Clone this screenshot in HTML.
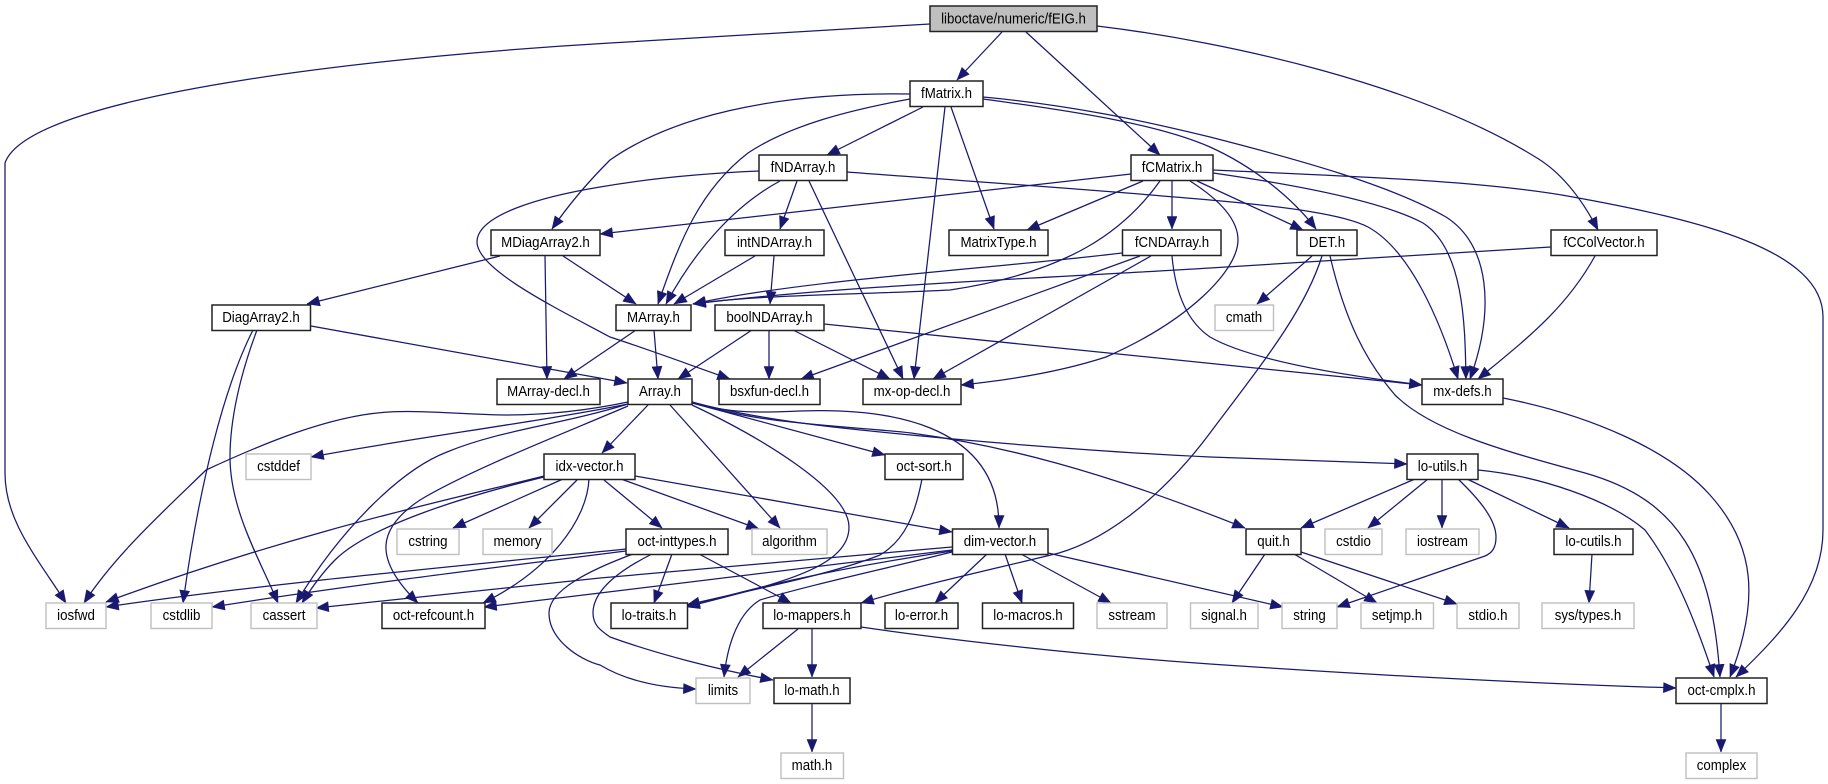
<!DOCTYPE html>
<html><head><meta charset="utf-8"><style>
html,body{margin:0;padding:0;background:#fff}
svg{display:block}
text{font-family:"Liberation Sans",sans-serif;font-size:14.5px;text-anchor:middle;fill:#000;transform-box:fill-box;transform-origin:center;transform:scaleX(.917)}
.n rect{fill:#fff;stroke:#222;stroke-width:1.5}
.g rect{fill:#fff;stroke:#bfbfbf;stroke-width:1.4}
.e path{fill:none;stroke:#191970;stroke-width:1.25;marker-end:url(#a)}
</style></head><body>
<svg width="1828" height="784" viewBox="0 0 1828 784" xmlns="http://www.w3.org/2000/svg">
<defs><marker id="a" markerUnits="userSpaceOnUse" markerWidth="14" markerHeight="11" refX="12.5" refY="5" orient="auto" overflow="visible"><path d="M0,0L12.5,5L0,10z" fill="#191970" stroke="#191970" stroke-width=".5"/></marker></defs>
<g class="e">
<path d="M930,24L610,43C420,54 30,90 5,163L5,473C5,520 35,555 66,603"/>
<path d="M1002,32L957,80"/>
<path d="M1026,32L1160,155"/>
<path d="M1097,26C1230,42 1420,85 1537,158C1565,175 1585,205 1598,230"/>
<path d="M910,94C770,92 670,118 610,160C585,185 565,210 552,229"/>
<path d="M910,99C850,110 790,125 748,153C700,190 680,240 658,304"/>
<path d="M923,107L827,155"/>
<path d="M945,107L914,379"/>
<path d="M951,107L994,229"/>
<path d="M983,99C1080,112 1160,125 1210,147C1250,165 1290,195 1316,229"/>
<path d="M983,97C1070,105 1140,120 1210,137C1300,160 1390,185 1446,217C1490,245 1495,310 1470,379"/>
<path d="M759,171C690,174 640,180 600,187C540,197 477,215 477,242C477,270 560,310 610,337C650,350 690,365 730,379"/>
<path d="M847,172C950,180 1100,190 1210,200C1290,207 1345,215 1368,227C1410,250 1440,320 1458,379"/>
<path d="M780,181C735,205 695,250 666,304"/>
<path d="M797,181L780,229"/>
<path d="M809,181L903,379"/>
<path d="M1131,174L600,234"/>
<path d="M1143,181L1027,230"/>
<path d="M1160,181C1125,230 1070,272 950,290C850,295 750,295 693,304"/>
<path d="M1172,181L1172,229"/>
<path d="M1190,181C1220,200 1238,220 1238,240C1238,270 1190,320 1106,357C1060,372 1010,380 961,385"/>
<path d="M1197,181L1303,230"/>
<path d="M1213,173C1290,184 1380,200 1423,223C1465,250 1465,330 1466,379"/>
<path d="M1213,170C1340,176 1480,180 1573,197C1700,220 1823,250 1823,317L1823,530C1823,590 1780,635 1736,677"/>
<path d="M1122,253C1000,268 800,280 693,304"/>
<path d="M1140,256L801,379"/>
<path d="M1151,256L933,379"/>
<path d="M1172,256C1175,290 1185,320 1210,337C1250,360 1340,375 1422,385"/>
<path d="M1312,256L1257,304"/>
<path d="M1330,256C1345,320 1365,360 1395,395C1430,430 1500,450 1585,473C1680,500 1712,560 1720,677"/>
<path d="M1322,256C1305,310 1265,360 1210,433C1175,480 1120,535 1059,553C990,570 920,585 861,603"/>
<path d="M1551,247L1210,268C1050,278 850,285 693,304"/>
<path d="M1595,256C1565,310 1525,340 1478,379"/>
<path d="M500,256L307,304"/>
<path d="M545,256L547,379"/>
<path d="M563,256L636,304"/>
<path d="M755,256L674,304"/>
<path d="M774,256L770,304"/>
<path d="M311,326L627,383"/>
<path d="M253,330C225,385 200,480 183,603"/>
<path d="M257,330C240,375 230,420 230,457C230,510 260,560 278,603"/>
<path d="M636,330L564,379"/>
<path d="M654,330L658,379"/>
<path d="M752,330L678,379"/>
<path d="M769,330L769,379"/>
<path d="M793,330L890,379"/>
<path d="M824,324L1422,385"/>
<path d="M628,402C580,412 540,415 506,415C470,415 425,410 389,412C330,415 260,445 206,470C165,510 115,555 84,603"/>
<path d="M628,404C550,420 400,440 311,457"/>
<path d="M628,404C560,425 500,430 447,452C400,470 340,530 296,603"/>
<path d="M628,406C560,435 470,470 420,500C378,528 372,558 418,603"/>
<path d="M648,405L602,453"/>
<path d="M670,405L780,528"/>
<path d="M692,405C760,437 849,490 849,527C849,570 770,585 687,607"/>
<path d="M692,403L885,455"/>
<path d="M692,402C730,415 770,412 800,411C880,408 1000,420 999,528"/>
<path d="M692,402C740,415 790,422 833,427C950,440 1100,452 1210,457L1407,464"/>
<path d="M692,402C760,425 840,425 911,433C1000,445 1100,470 1245,528"/>
<path d="M544,476C470,495 300,530 106,602"/>
<path d="M544,477C470,495 370,525 335,560C322,573 312,587 302,603"/>
<path d="M563,479L453,528"/>
<path d="M578,479L529,528"/>
<path d="M589,479C587,520 550,570 483,603"/>
<path d="M604,480L662,528"/>
<path d="M621,479L759,529"/>
<path d="M635,476L952,532"/>
<path d="M922,479C915,515 905,540 880,555C830,575 750,590 687,605"/>
<path d="M626,549C500,562 250,585 106,607"/>
<path d="M626,551C500,567 350,585 212,607"/>
<path d="M633,554C590,570 549,590 549,613C549,640 580,660 600,665C630,683 665,688 696,689"/>
<path d="M652,554C620,570 593,590 593,613C593,625 600,630 610,637C660,655 720,670 773,680"/>
<path d="M672,554L654,603"/>
<path d="M699,554L791,603"/>
<path d="M952,547L600,578L316,608"/>
<path d="M952,550L600,593L484,607"/>
<path d="M952,551C860,565 780,580 687,607"/>
<path d="M952,552C880,570 810,585 760,600C740,612 728,640 724,677"/>
<path d="M987,554L935,603"/>
<path d="M1005,554L1022,603"/>
<path d="M1021,554L1111,603"/>
<path d="M1048,553L1283,607"/>
<path d="M798,629L738,677"/>
<path d="M812,629L812,677"/>
<path d="M861,627C950,640 1080,655 1210,664C1400,677 1550,684 1676,688"/>
<path d="M812,703L812,752"/>
<path d="M1721,703L1721,752"/>
<path d="M1503,398C1590,415 1670,450 1710,495C1755,545 1760,600 1730,677"/>
<path d="M1415,479L1301,528"/>
<path d="M1428,479L1368,528"/>
<path d="M1442,479L1442,528"/>
<path d="M1458,479C1480,500 1496,520 1496,537C1496,548 1492,553 1485,556L1337,607"/>
<path d="M1467,479L1569,528"/>
<path d="M1478,470C1540,476 1610,500 1645,530C1675,570 1695,620 1714,677"/>
<path d="M1265,554L1232,603"/>
<path d="M1294,554L1377,603"/>
<path d="M1301,552L1457,604"/>
<path d="M1592,554L1589,603"/>
</g>
<rect x="930" y="6" width="167" height="25.5" fill="#bfbfbf" stroke="#222" stroke-width="1.5"/><text x="1013.5" y="23.5">liboctave/numeric/fEIG.h</text>
<g class="n">
<rect x="910" y="81" width="73" height="25.5"/><text x="946.5" y="98">fMatrix.h</text>
<rect x="759" y="155" width="88" height="25.5"/><text x="803" y="172">fNDArray.h</text>
<rect x="1131" y="155" width="82" height="25.5"/><text x="1172" y="172">fCMatrix.h</text>
<rect x="491" y="230" width="109" height="25.5"/><text x="545.5" y="247">MDiagArray2.h</text>
<rect x="725" y="230" width="99" height="25.5"/><text x="774.5" y="247">intNDArray.h</text>
<rect x="949" y="230" width="99" height="25.5"/><text x="998.5" y="247">MatrixType.h</text>
<rect x="1122.5" y="230" width="98.5" height="25.5"/><text x="1172" y="247">fCNDArray.h</text>
<rect x="1297" y="230" width="60" height="25.5"/><text x="1327" y="247">DET.h</text>
<rect x="1551" y="230" width="106" height="25.5"/><text x="1604" y="247">fCColVector.h</text>
<rect x="212" y="305" width="98.5" height="25.5"/><text x="261" y="322">DiagArray2.h</text>
<rect x="616" y="305" width="75" height="25.5"/><text x="653.5" y="322">MArray.h</text>
<rect x="715" y="305" width="109" height="25.5"/><text x="769.5" y="322">boolNDArray.h</text>
<rect x="497" y="379" width="103" height="25.5"/><text x="548.5" y="396">MArray-decl.h</text>
<rect x="628" y="379" width="64" height="25.5"/><text x="660" y="396">Array.h</text>
<rect x="719" y="379" width="101" height="25.5"/><text x="769.5" y="396">bsxfun-decl.h</text>
<rect x="863" y="379" width="98" height="25.5"/><text x="912" y="396">mx-op-decl.h</text>
<rect x="1422" y="379" width="81" height="25.5"/><text x="1462.5" y="396">mx-defs.h</text>
<rect x="544" y="454" width="91" height="25.5"/><text x="589.5" y="471">idx-vector.h</text>
<rect x="885" y="454" width="78" height="25.5"/><text x="924" y="471">oct-sort.h</text>
<rect x="1407" y="454" width="71" height="25.5"/><text x="1442.5" y="471">lo-utils.h</text>
<rect x="626" y="529" width="102" height="25.5"/><text x="677" y="546">oct-inttypes.h</text>
<rect x="952.5" y="529" width="95.5" height="25.5"/><text x="1000" y="546">dim-vector.h</text>
<rect x="1246" y="529" width="55" height="25.5"/><text x="1273.5" y="546">quit.h</text>
<rect x="1554" y="529" width="79" height="25.5"/><text x="1593.5" y="546">lo-cutils.h</text>
<rect x="382" y="603" width="103" height="25.5"/><text x="433.5" y="620">oct-refcount.h</text>
<rect x="611" y="603" width="76.5" height="25.5"/><text x="649" y="620">lo-traits.h</text>
<rect x="763" y="603" width="98" height="25.5"/><text x="812" y="620">lo-mappers.h</text>
<rect x="885" y="603" width="73" height="25.5"/><text x="921.5" y="620">lo-error.h</text>
<rect x="982.5" y="603" width="91" height="25.5"/><text x="1028" y="620">lo-macros.h</text>
<rect x="774" y="678" width="76" height="25.5"/><text x="812" y="695">lo-math.h</text>
<rect x="1676" y="678" width="91" height="25.5"/><text x="1721.5" y="695">oct-cmplx.h</text>
</g>
<g class="g">
<rect x="1215" y="305" width="58.5" height="25.5"/><text x="1244" y="322">cmath</text>
<rect x="246" y="454" width="65" height="25.5"/><text x="278.5" y="471">cstddef</text>
<rect x="397" y="529" width="62" height="25.5"/><text x="428" y="546">cstring</text>
<rect x="483" y="529" width="69" height="25.5"/><text x="517.5" y="546">memory</text>
<rect x="752" y="529" width="75" height="25.5"/><text x="789.5" y="546">algorithm</text>
<rect x="1325" y="529" width="57" height="25.5"/><text x="1353.5" y="546">cstdio</text>
<rect x="1406" y="529" width="73" height="25.5"/><text x="1442.5" y="546">iostream</text>
<rect x="46" y="603" width="60" height="25.5"/><text x="76" y="620">iosfwd</text>
<rect x="151" y="603" width="61" height="25.5"/><text x="181.5" y="620">cstdlib</text>
<rect x="251" y="603" width="66" height="25.5"/><text x="284" y="620">cassert</text>
<rect x="1097" y="603" width="70" height="25.5"/><text x="1132" y="620">sstream</text>
<rect x="1190.5" y="603" width="67.5" height="25.5"/><text x="1224" y="620">signal.h</text>
<rect x="1282" y="603" width="55" height="25.5"/><text x="1309.5" y="620">string</text>
<rect x="1361" y="603" width="72.5" height="25.5"/><text x="1397" y="620">setjmp.h</text>
<rect x="1457" y="603" width="62" height="25.5"/><text x="1488" y="620">stdio.h</text>
<rect x="1542" y="603" width="92" height="25.5"/><text x="1588" y="620">sys/types.h</text>
<rect x="696" y="678" width="54" height="25.5"/><text x="723" y="695">limits</text>
<rect x="781" y="753" width="62.5" height="25.5"/><text x="812" y="770">math.h</text>
<rect x="1686" y="753" width="71" height="25.5"/><text x="1721.5" y="770">complex</text>
</g>
</svg>
</body></html>
